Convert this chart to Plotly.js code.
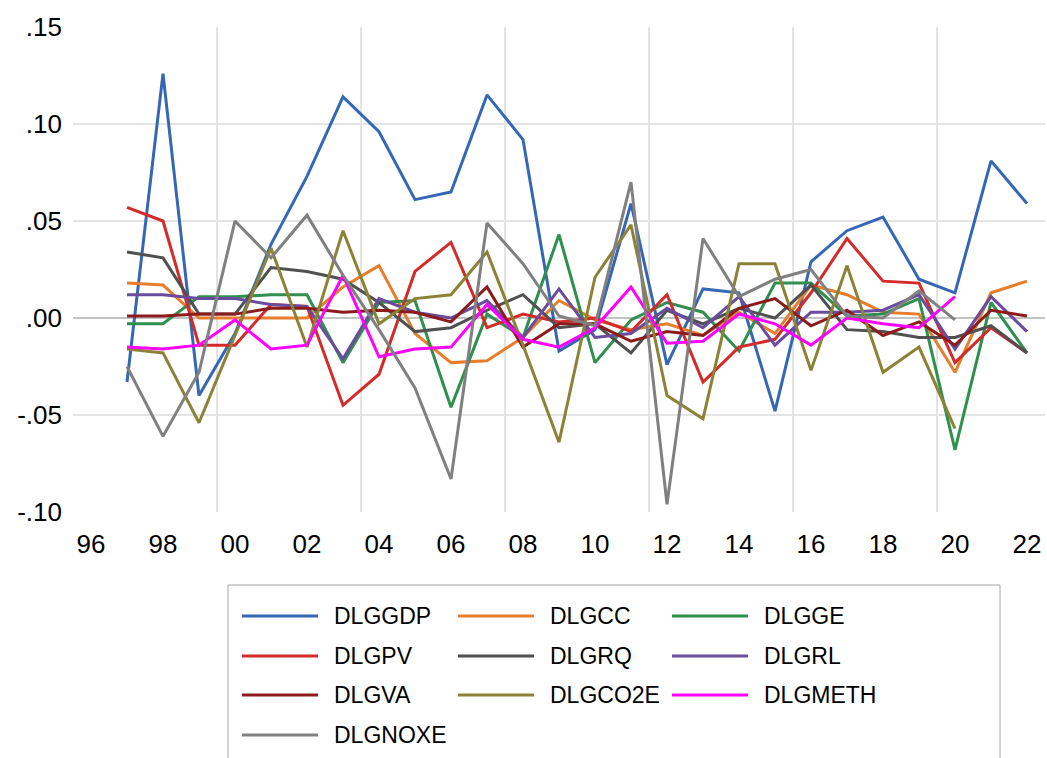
<!DOCTYPE html>
<html>
<head>
<meta charset="utf-8">
<script src="https://cdn.plot.ly/plotly-3.0.1.min.js"></script>
<style>html,body{margin:0;padding:0;background:#fff;}#chart{width:1047px;height:758px;}</style>
</head>
<body>
<div id="chart"></div>
<script>
const years = [1997,1998,1999,2000,2001,2002,2003,2004,2005,2006,2007,2008,2009,2010,2011,2012,2013,2014,2015,2016,2017,2018,2019,2020,2021,2022];

const DLGGDP = [-0.033,0.126,-0.040,-0.008,0.038,0.073,0.114,0.096,0.061,0.065,0.115,0.092,-0.017,-0.006,0.059,-0.024,0.015,0.013,-0.048,0.029,0.045,0.052,0.020,0.013,0.081,0.059];
const DLGCC = [0.018,0.017,0.000,0.000,0.000,0.000,0.016,0.027,-0.008,-0.023,-0.022,-0.010,0.009,-0.001,-0.006,-0.003,-0.009,0.003,-0.008,0.017,0.012,0.003,0.002,-0.028,0.013,0.019];
const DLGGE = [-0.003,-0.003,0.011,0.011,0.012,0.012,-0.023,0.008,0.009,-0.046,0.002,-0.010,0.043,-0.023,-0.001,0.008,0.003,-0.017,0.018,0.018,0.001,0.002,0.010,-0.068,0.008,-0.018];
const DLGPV = [0.057,0.050,-0.014,-0.014,0.007,0.006,-0.045,-0.029,0.024,0.039,-0.005,0.002,-0.002,0.000,-0.007,0.012,-0.033,-0.015,-0.011,0.013,0.041,0.019,0.018,-0.023,-0.005,-0.018];
const DLGRQ = [0.034,0.031,0.002,0.002,0.026,0.024,0.020,0.008,-0.007,-0.005,0.004,0.012,-0.005,-0.003,-0.018,0.004,-0.003,0.005,0.000,0.017,-0.006,-0.007,-0.010,-0.010,-0.004,-0.018];
const DLGRL = [0.012,0.012,0.010,0.010,0.007,0.006,-0.021,0.010,0.003,0.000,0.009,-0.010,0.015,-0.010,-0.008,0.005,-0.005,0.011,-0.014,0.003,0.003,0.004,0.012,-0.016,0.011,-0.007];
const DLGVA = [0.001,0.001,0.002,0.002,0.005,0.005,0.003,0.004,0.003,-0.002,0.016,-0.015,-0.003,-0.003,-0.012,-0.007,-0.009,0.005,0.010,-0.004,0.004,-0.009,-0.002,-0.014,0.004,0.001];
const DLGCO2E = [-0.016,-0.018,-0.054,-0.009,0.036,-0.015,0.045,-0.003,0.010,0.012,0.034,-0.014,-0.064,0.021,0.048,-0.040,-0.052,0.028,0.028,-0.027,0.027,-0.028,-0.015,-0.057];
const DLGMETH = [-0.015,-0.016,-0.014,-0.001,-0.016,-0.014,0.022,-0.020,-0.016,-0.015,0.007,-0.011,-0.015,-0.005,0.016,-0.013,-0.012,0.002,-0.003,-0.014,0.000,-0.003,-0.005,0.011];
const DLGNOXE = [-0.025,-0.061,-0.028,0.050,0.031,0.053,0.022,-0.006,-0.036,-0.083,0.049,0.028,0.001,-0.004,0.070,-0.096,0.041,0.011,0.020,0.025,0.001,0.000,0.014,-0.001];

const seriesNames = ["DLGGDP","DLGCC","DLGGE","DLGPV","DLGRQ","DLGRL","DLGVA","DLGCO2E","DLGMETH","DLGNOXE"];
const seriesValues = [DLGGDP,DLGCC,DLGGE,DLGPV,DLGRQ,DLGRL,DLGVA,DLGCO2E,DLGMETH,DLGNOXE];
const seriesColors = ["#3567b5","#e67e2c","#2f8f4e","#d42a2a","#505050","#6a4c9c","#8c1c1c","#8c8236","#ff00ff","#808080"];

const xTickVals = [1996,1998,2000,2002,2004,2006,2008,2010,2012,2014,2016,2018,2020,2022];
const xTickText = ["96","98","00","02","04","06","08","10","12","14","16","18","20","22"];
const yTickVals = [-0.10,-0.05,0,0.05,0.10,0.15];
const yTickText = ["-.10","-.05",".00",".05",".10",".15"];
const xGridVals = [1999.5,2003.5,2007.5,2011.5,2015.5,2019.5];
const yGridVals = [-0.05,0.05,0.10];

const W = 1047, H = 758;
const M = {l:73, r:2, t:27, b:246};
const PW = W - M.l - M.r, PH = H - M.t - M.b;
const px2x = p => (p - M.l) / PW;
const py2y = p => (H - M.b - p) / PH;

const traces = seriesNames.map((n,i)=>({
  type:'scatter', mode:'lines', name:n,
  x: years.slice(0, seriesValues[i].length), y: seriesValues[i],
  line:{color:seriesColors[i], width:3}, xaxis:'x', yaxis:'y', showlegend:false
}));
// invisible helper trace so the grid axes render
traces.push({type:'scatter', mode:'lines', x:[1995.5], y:[0], xaxis:'x2', yaxis:'y2', showlegend:false, hoverinfo:'skip', line:{width:0}});

const font = "Liberation Sans, Arial, sans-serif";

// legend drawn as a 3-column key (box, sample lines, labels)
const legCols = [242, 458, 672];
const legRows = [616, 656, 695, 735];
const sampleLen = 76, textGap = 14;
const shapes = [{type:'rect', xref:'paper', yref:'paper', x0:px2x(228), x1:px2x(1000), y0:py2y(585), y1:py2y(790),
                 line:{color:'#a6a6a6', width:1}, fillcolor:'rgba(0,0,0,0)', layer:'above'}];
const annotations = [];
seriesNames.forEach((n,i)=>{
  const cx = legCols[i % 3], cy = legRows[Math.floor(i / 3)];
  shapes.push({type:'line', xref:'paper', yref:'paper', x0:px2x(cx), x1:px2x(cx+sampleLen), y0:py2y(cy), y1:py2y(cy),
               line:{color:seriesColors[i], width:3}});
  annotations.push({xref:'paper', yref:'paper', x:px2x(cx+sampleLen+textGap), y:py2y(cy), xanchor:'left', yanchor:'middle',
               text:n, showarrow:false, font:{size:23, family:font, color:'#000'}});
});

const layout = {
  width:W, height:H,
  margin:M,
  paper_bgcolor:'#ffffff', plot_bgcolor:'#ffffff',
  font:{family:font, color:'#000000'},
  showlegend:false,
  xaxis:{range:[1995.5,2022.5], tickvals:xTickVals, ticktext:xTickText, showgrid:false, zeroline:false, showline:false,
         ticks:'', tickfont:{size:26, family:font, color:'#000'}, ticklabelstandoff:14},
  yaxis:{range:[-0.10,0.15], tickvals:yTickVals, ticktext:yTickText, showgrid:false, zeroline:false, showline:false,
         ticks:'', tickfont:{size:26, family:font, color:'#000'}, ticklabelstandoff:10},
  xaxis2:{range:[1995.5,2022.5], overlaying:'x', tickvals:xGridVals, showticklabels:false, showgrid:true, gridcolor:'#e4e4e4', gridwidth:1.5, zeroline:false, ticks:''},
  yaxis2:{range:[-0.10,0.15], overlaying:'y', tickvals:yGridVals, showticklabels:false, showgrid:true, gridcolor:'#e4e4e4', gridwidth:1.5, zeroline:true, zerolinecolor:'#c4c4c4', zerolinewidth:1.5, ticks:''},
  shapes:shapes,
  annotations:annotations
};

Plotly.newPlot('chart', traces, layout, {displayModeBar:false, staticPlot:true});
</script>
</body>
</html>
